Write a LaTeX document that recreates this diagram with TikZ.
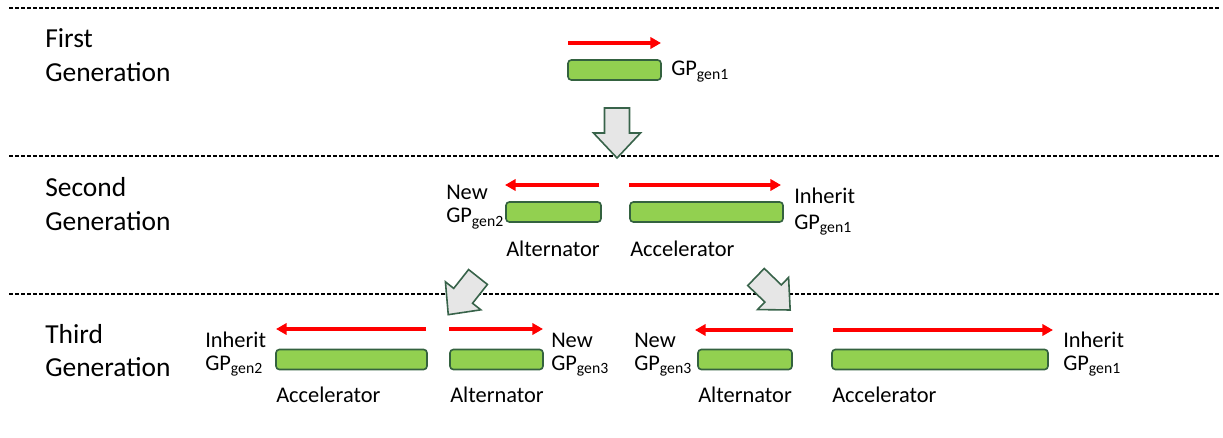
\documentclass[tikz,border=0pt]{standalone}
\usepackage{fontspec}
\setmainfont{Carlito}
\usetikzlibrary{arrows.meta}
\definecolor{barfill}{HTML}{92D050}
\definecolor{barline}{HTML}{34623F}
\definecolor{blkfill}{HTML}{E6E6E6}
\definecolor{blkline}{HTML}{38634A}
\tikzset{
  gentitle/.style={font=\fontsize{20.6}{24}\selectfont, anchor=base west, inner sep=0pt},
  lbl/.style={font=\fontsize{16.8}{19}\selectfont, anchor=base west, inner sep=0pt},
  bar/.style={rectangle, rounded corners=2.5pt, fill=barfill, draw=barline, line width=1.2pt, inner sep=0pt, minimum height=15pt},
  barw/.style={minimum width=#1*0.75pt},
  redarr/.style={draw=red, line width=2.5pt, -{Triangle[length=8pt,width=8.5pt]}},
  sep/.style={draw=black, line width=0.8pt, dash pattern=on 3pt off 1.5pt},
  blk/.style={fill=blkfill, draw=blkline, line width=1.2pt, line join=miter},
}
\newcommand{\blockarrow}[4]{% x, y (tail centre), angle, scale
  \begin{scope}[shift={(#1,#2)}, rotate=#3, scale=#4]
    \draw[blk] (0,-12.5) -- (25,-12.5) -- (25,-23.5) -- (50,0) -- (25,23.5) -- (25,12.5) -- (0,12.5) -- cycle;
  \end{scope}}
\begin{document}
\begin{tikzpicture}[x=0.75pt, y=-0.75pt]
\useasboundingbox (0,0) rectangle (1223,438);

% separators
\coordinate (s1a) at (9,8);   \coordinate (s1b) at (1220,8);
\coordinate (s2a) at (9,156); \coordinate (s2b) at (1220,156);
\coordinate (s3a) at (9,294); \coordinate (s3b) at (1220,294);
\draw[sep] (s1a) -- (s1b);
\draw[sep] (s2a) -- (s2b);
\draw[sep] (s3a) -- (s3b);

% titles
\node[gentitle] (t1a) at (45,48) {First};
\node[gentitle] (t1b) at (45,82) {Generation};
\node[gentitle] (t2a) at (45,197) {Second};
\node[gentitle] (t2b) at (45,230) {Generation};
\node[gentitle] (t3a) at (45,343) {Third};
\node[gentitle] (t3b) at (45,376) {Generation};

% block arrows
\blockarrow{617}{108}{-90}{1}
\blockarrow{478}{277}{231.7}{0.96}
\blockarrow{756}{277}{-44}{0.95}

% generation 1
\node[bar, barw=93] (b1) at (614.5,70) {};
\node[lbl] (g1) at (671,76) {GP\textsubscript{gen1}};
\coordinate (r1s) at (568,43); \coordinate (r1e) at (661,43);
\draw[redarr] (r1s) -- (r1e);

% generation 2
\node[bar, barw=95] (b2a) at (553.5,212) {};
\node[bar, barw=153] (b2b) at (706.5,212) {};
\coordinate (r2as) at (599,185); \coordinate (r2ae) at (505,185);
\coordinate (r2bs) at (629,185); \coordinate (r2be) at (781,185);
\draw[redarr] (r2as) -- (r2ae);
\draw[redarr] (r2bs) -- (r2be);
\node[lbl] (l2a) at (506,257) {Alternator};
\node[lbl] (l2b) at (630,257) {Accelerator};
\node[lbl] (n2a) at (446,200) {New};
\node[lbl] (n2b) at (446,223) {GP\textsubscript{gen2}};
\node[lbl] (i2a) at (794,204) {Inherit};
\node[lbl] (i2b) at (794,229) {GP\textsubscript{gen1}};

% generation 3
\node[bar, barw=151] (b3a) at (351.5,359.5) {};
\node[bar, barw=93] (b3b) at (496.5,359.5) {};
\node[bar, barw=94] (b3c) at (745,359.5) {};
\node[bar, barw=216] (b3d) at (940,359.5) {};
\coordinate (r3as) at (426,329); \coordinate (r3ae) at (276,329);
\coordinate (r3bs) at (449,329); \coordinate (r3be) at (543,329);
\coordinate (r3cs) at (793,330); \coordinate (r3ce) at (695,330);
\coordinate (r3ds) at (833,330); \coordinate (r3de) at (1053,330);
\draw[redarr] (r3as) -- (r3ae);
\draw[redarr] (r3bs) -- (r3be);
\draw[redarr] (r3cs) -- (r3ce);
\draw[redarr] (r3ds) -- (r3de);
\node[lbl] (l3a) at (276,402) {Accelerator};
\node[lbl] (l3b) at (450,402) {Alternator};
\node[lbl] (l3c) at (698,402) {Alternator};
\node[lbl] (l3d) at (832,402) {Accelerator};
\node[lbl] (i3a) at (205,347) {Inherit};
\node[lbl] (i3b) at (205,370) {GP\textsubscript{gen2}};
\node[lbl] (n3a) at (551,347) {New};
\node[lbl] (n3b) at (551,370) {GP\textsubscript{gen3}};
\node[lbl] (n3c) at (634,347) {New};
\node[lbl] (n3d) at (634,370) {GP\textsubscript{gen3}};
\node[lbl] (i3c) at (1063,347) {Inherit};
\node[lbl] (i3d) at (1063,370) {GP\textsubscript{gen1}};
\end{tikzpicture}
\end{document}
